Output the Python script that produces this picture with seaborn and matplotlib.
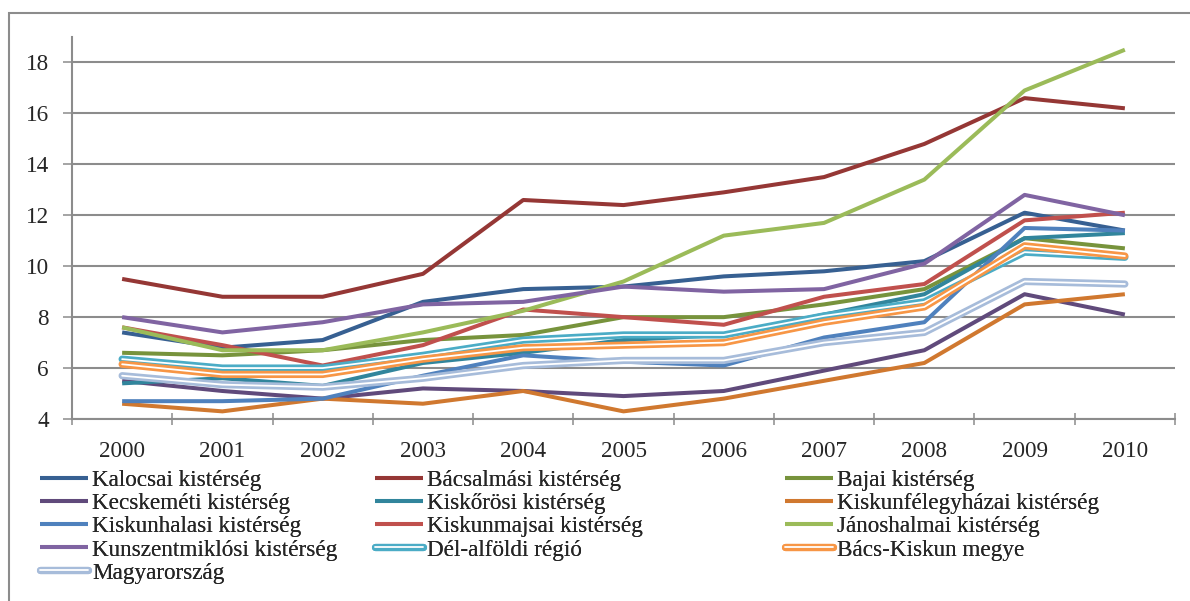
import numpy as np
import pandas as pd
import matplotlib
matplotlib.use('Agg')
import matplotlib.pyplot as plt
import matplotlib.patheffects as pe
from matplotlib.patches import Rectangle
from matplotlib.ticker import FixedLocator
import seaborn as sns

# data
years = ['2000', '2001', '2002', '2003', '2004', '2005', '2006', '2007', '2008', '2009', '2010']

kalocsai = [7.4, 6.8, 7.1, 8.6, 9.1, 9.2, 9.6, 9.8, 10.2, 12.1, 11.4]
bacsalmasi = [9.5, 8.8, 8.8, 9.7, 12.6, 12.4, 12.9, 13.5, 14.8, 16.6, 16.2]
bajai = [6.6, 6.5, 6.7, 7.1, 7.3, 8.0, 8.0, 8.5, 9.1, 11.1, 10.7]
kecskemeti = [5.5, 5.1, 4.8, 5.2, 5.1, 4.9, 5.1, 5.9, 6.7, 8.9, 8.1]
kiskorosi = [5.4, 5.6, 5.3, 6.2, 6.6, 7.1, 7.3, 8.1, 8.9, 11.1, 11.3]
kiskunfelegyhazai = [4.6, 4.3, 4.8, 4.6, 5.1, 4.3, 4.8, 5.5, 6.2, 8.5, 8.9]
kiskunhalasi = [4.7, 4.7, 4.8, 5.7, 6.5, 6.25, 6.1, 7.2, 7.8, 11.5, 11.4]
kiskunmajsai = [7.6, 6.9, 6.1, 6.9, 8.3, 8.0, 7.7, 8.8, 9.3, 11.8, 12.1]
janoshalmai = [7.6, 6.7, 6.7, 7.4, 8.25, 9.4, 11.2, 11.7, 13.4, 16.9, 18.5]
kunszentmiklosi = [8.0, 7.4, 7.8, 8.5, 8.6, 9.2, 9.0, 9.1, 10.1, 12.8, 12.0]
del_alfoldi = [6.35, 6.0, 6.0, 6.5, 7.1, 7.3, 7.3, 8.05, 8.6, 10.55, 10.35]
bacs_kiskun = [6.15, 5.75, 5.75, 6.35, 6.8, 6.9, 7.0, 7.8, 8.4, 10.8, 10.4]
magyarorszag = [5.7, 5.35, 5.25, 5.6, 6.1, 6.3, 6.3, 7.0, 7.4, 9.4, 9.3]

names = ['Kalocsai kistérség', 'Bácsalmási kistérség', 'Bajai kistérség',
         'Kecskeméti kistérség', 'Kiskőrösi kistérség', 'Kiskunfélegyházai kistérség',
         'Kiskunhalasi kistérség', 'Kiskunmajsai kistérség', 'Jánoshalmai kistérség',
         'Kunszentmiklósi kistérség', 'Dél-alföldi régió', 'Bács-Kiskun megye',
         'Magyarország']
values = [kalocsai, bacsalmasi, bajai, kecskemeti, kiskorosi, kiskunfelegyhazai,
          kiskunhalasi, kiskunmajsai, janoshalmai, kunszentmiklosi,
          del_alfoldi, bacs_kiskun, magyarorszag]
colors = ['#376092', '#953735', '#77933C', '#604A7B', '#31859C', '#D0782F',
          '#4F81BD', '#C0504D', '#9BBB59', '#8064A2', '#4BACC6', '#F79646',
          '#A7BCDA']
double = [False] * 10 + [True] * 3

sns.set_style('white')
plt.rcParams['font.family'] = ['Liberation Serif', 'DejaVu Serif']
fs = 16.7

fig = plt.figure(figsize=(11.9, 6.01), dpi=100)
ax = fig.add_axes([72 / 1190, 1 - 419 / 601, (1175 - 72) / 1190, (419 - 37) / 601])

x = np.arange(len(years))
handles = []
for name, vals, col, dbl in zip(names, values, colors, double):
    df = pd.DataFrame({'x': x, 'y': vals})
    n_before = len(ax.lines)
    if dbl:
        sns.lineplot(data=df, x='x', y='y', ax=ax, color='white', lw=1.3,
                     label=name, solid_capstyle='round',
                     path_effects=[pe.Stroke(linewidth=5.2, foreground=col,
                                             capstyle='round'), pe.Normal()])
    else:
        sns.lineplot(data=df, x='x', y='y', ax=ax, color=col, lw=2.9,
                     label=name, solid_capstyle='butt')
    handles.append(ax.lines[n_before])

ax.get_legend().remove()

grid_col = '#8c8c8c'
ax.set_xlim(-0.5, 10.5)
ax.set_ylim(4, 19)
ax.set_yticks(np.arange(4, 19, 2))
ax.set_xticks(x)
ax.set_xticklabels(years)
ax.xaxis.set_minor_locator(FixedLocator(np.arange(-0.5, 11, 1)))
ax.yaxis.grid(True, color=grid_col, lw=1.5)
ax.xaxis.grid(False)
ax.set_axisbelow(True)
ax.set_xlabel('')
ax.set_ylabel('')
for s in ['top', 'right']:
    ax.spines[s].set_visible(False)
for s in ['left', 'bottom']:
    ax.spines[s].set_color(grid_col)
    ax.spines[s].set_linewidth(1.5)
ax.tick_params(axis='y', which='major', direction='out', length=6.5, width=1.1,
               color=grid_col, left=True, labelsize=fs, pad=10)
ax.tick_params(axis='x', which='major', length=0, labelsize=fs, pad=16)
ax.tick_params(axis='x', which='minor', direction='inout', length=8, width=1.1,
               color=grid_col, bottom=True)

# legend: three columns, filled row by row
col_x = [40 / 1190, 375 / 1190, 785 / 1190]
for c in range(3):
    h = handles[c::3]
    leg = fig.legend(handles=h, labels=[l.get_label() for l in h],
                     loc='upper left', bbox_to_anchor=(col_x[c], 1 - 470 / 601),
                     frameon=False, fontsize=fs, handlelength=2.05,
                     handletextpad=0.2, labelspacing=0.08, borderpad=0,
                     borderaxespad=0)
    fig.add_artist(leg)

fig.patches.append(Rectangle((9 / 1190, -0.1), 1.2, 1.1 - 13 / 601,
                             transform=fig.transFigure, fill=False,
                             edgecolor=grid_col, lw=1.5))

plt.savefig('out.png', dpi=100)
